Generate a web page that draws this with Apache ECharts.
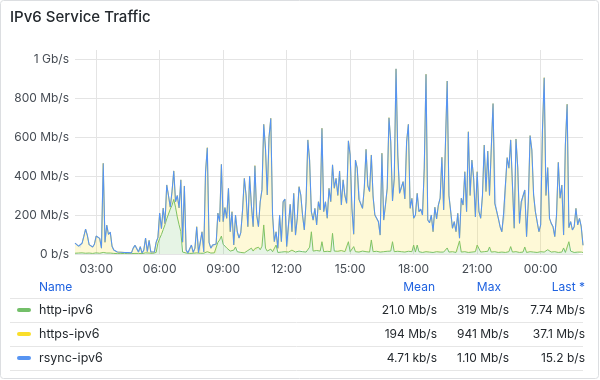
<!DOCTYPE html>
<html><head><meta charset="utf-8">
<script src="https://cdn.jsdelivr.net/npm/echarts@6/dist/echarts.min.js"></script>
<style>html,body{margin:0;padding:0;background:#fff}#c{width:600px;height:380px}</style>
</head><body><div id="c"></div>
<script>
// time grid: 5-minute samples from 02:00 to 02:00 next day
const startMinutes = 120;
const stepMinutes = 5;

// http-ipv6 traffic, Mb/s
const httpMbps = [
4,3,5,4,6,5,4,6,5,4,3,5,6,5,4,4,8,6,5,4,5,4,3,3,2,3,2,2,3,2,2,3,2,4,3,5,3,4,2,3,6,3,5,2,3,4,8,55,80,
100,125,150,180,205,230,250,280,240,190,150,115,10,8,5,4,3,5,4,3,6,3,4,5,4,8,12,6,5,4,6,5,60,72,92,50,46,31,25,15,10,20,36,12,20,8,10,6,
12,18,25,30,15,28,20,35,22,40,149,30,15,20,25,12,10,46,8,12,10,15,12,8,10,14,20,12,10,18,15,22,12,14,10,20,35,114,15,12,18,10,15,63,12,20,14,10,
12,106,15,10,14,12,18,10,12,15,63,12,10,38,12,14,10,12,15,10,12,14,10,72,12,10,14,12,10,15,12,10,14,12,15,63,12,8,14,10,12,15,10,12,14,10,12,46,
10,46,12,10,8,10,12,8,10,12,8,10,12,8,10,12,10,15,31,10,8,12,10,8,12,67,10,8,12,10,8,12,10,8,12,46,40,10,8,12,10,14,36,10,8,12,10,8,
8,10,12,8,10,12,38,10,8,12,10,8,12,10,36,8,10,12,8,10,12,8,10,12,8,10,20,22,18,10,8,12,10,8,12,10,31,8,12,63,15,10,8,12,10,8,10,7.74
];

// https-ipv6 traffic, Mb/s
const httpsMbps = [
52,47,35,26,49,85,124,89,43,38,33,45,86,85,76,26,457,54,143,96,107,36,17,9,8,5,7,5,5,4,5,2,4,26,42,35,7,34,3,17,76,9,65,8,5,6,52,29,130,
30,111,5,174,95,10,70,146,28,110,86,265,50,341,15,2,2,41,4,27,134,3,4,109,6,412,533,54,25,42,32,46,150,94,368,116,192,152,312,99,207,26,164,102,62,102,216,382,
288,122,375,220,125,425,180,105,246,290,516,510,288,580,671,188,53,68,21,188,53,253,270,30,36,241,94,299,87,165,330,281,188,109,258,565,445,103,159,222,131,258,211,582,205,248,169,327,
256,351,322,378,286,414,233,370,288,245,517,496,224,63,470,426,270,274,219,327,525,336,310,436,282,190,169,154,87,502,162,241,323,687,561,209,376,941,494,301,308,356,272,564,651,224,274,137,
190,265,205,220,192,430,910,166,150,188,106,230,168,243,276,484,216,544,856,290,209,120,156,106,197,14,276,243,410,207,619,288,472,380,178,376,177,173,292,547,310,514,264,532,763,248,241,175,
132,104,197,192,484,428,547,344,124,578,433,149,256,267,292,81,258,595,525,293,205,158,104,137,623,894,280,421,165,147,132,77,190,462,274,344,66,551,756,72,151,113,132,222,139,175,130,37.1
];

// rsync-ipv6 traffic, kb/s
const rsyncKbps = [
3,5,2,4,6,3,8,4,2,5,3,7,4,2,6,3,5,9,4,3,2,6,4,3,
1,2,1,0,1,2,1,1,0,2,3,1,2,1,0,2,3,1,2,4,2,3,5,4,
6,8,5,7,9,6,4,8,7,5,6,9,4,3,2,1,1,2,0,1,3,1,2,4,
2,1,5,7,3,2,4,3,2,6,5,8,4,6,3,7,5,4,2,6,5,3,4,7,
8,6,5,9,7,4,6,8,5,7,6,10,9,6,8,11,5,3,4,2,5,3,6,7,
2,3,6,4,7,5,4,8,6,5,4,9,7,5,4,6,5,7,6,4,8,5,6,4,
6,5,8,6,7,5,8,4,6,5,7,9,8,4,3,7,6,5,6,4,5,8,6,5,
7,6,4,5,3,2,8,4,5,6,10,8,5,6,1100,7,5,6,5,4,8,9,4,5,
4,5,6,4,5,7,6,12,5,4,5,3,5,4,6,5,7,4,8,11,6,5,4,3,
3,4,2,5,3,5,4,8,5,6,7,6,4,6,4,3,5,7,4,6,5,9,4,3,
3,2,4,3,6,5,7,4,2,7,5,3,4,4,5,2,4,7,6,4,3,2,2,3,
3,6,8,4,5,3,3,2,2,4,5,4,5,2,6,8,2,3,2,2,3,2,3,2,
0.0152
];

const seriesNames = ['http-ipv6', 'https-ipv6', 'rsync-ipv6'];
const seriesColors = ['#73BF69', '#FADE2A', '#5794F2'];
const legendHeaders = ['Name', 'Mean', 'Max', 'Last *'];
const legendMean = ['21.0 Mb/s', '194 Mb/s', '4.71 kb/s'];
const legendMax = ['319 Mb/s', '941 Mb/s', '1.10 Mb/s'];
const legendLast = ['7.74 Mb/s', '37.1 Mb/s', '15.2 b/s'];
const titleText = 'IPv6 Service Traffic';

const pad = n => (n < 10 ? '0' : '') + n;
const times = httpMbps.map((_, i) => {
  const m = (startMinutes + i * stepMinutes) % 1440;
  return pad(Math.floor(m / 60)) + ':' + pad(m % 60);
});
const isTick = (idx, val) => {
  const v = times[idx];
  return v.slice(3) === '00' && (parseInt(v.slice(0, 2), 10) % 3 === 0);
};

const FONT = 'Inter, "Noto Sans", sans-serif';
const TXT = '#24292e';
const SUB = '#464c54';
const GRIDC = '#e4e4e4';

const graphics = [];
graphics.push({type: 'rect', silent: true, z: 0,
  shape: {x: 0.5, y: 0.5, width: 598, height: 378, r: 3},
  style: {fill: 'none', stroke: '#dcdee1', lineWidth: 1}});
graphics.push({type: 'text', silent: true,
  style: {text: titleText, x: 10, y: 17, font: '500 15px ' + FONT, fill: TXT,
    textAlign: 'left', textVerticalAlign: 'middle', align: 'left', verticalAlign: 'middle'}});

const headerY = 287;
const headerX = [39, 435, 501, 585];
legendHeaders.forEach((h, k) => {
  graphics.push({type: 'text', silent: true,
    style: {text: h, x: headerX[k], y: headerY, font: '12px ' + FONT, fill: '#1f62e0',
      textAlign: k === 0 ? 'left' : 'right', align: k === 0 ? 'left' : 'right',
      textVerticalAlign: 'middle', verticalAlign: 'middle'}});
});
[298.5, 322.5, 346.5, 370.5].forEach(y => {
  graphics.push({type: 'line', silent: true,
    shape: {x1: 10, y1: y, x2: 583, y2: y}, style: {stroke: '#e6e6e6', lineWidth: 1}});
});
const rowY = [310, 334, 358];
const valX = [437, 509, 585];
seriesNames.forEach((n, k) => {
  const y = rowY[k];
  graphics.push({type: 'rect', silent: true,
    shape: {x: 17, y: y - 2, width: 14, height: 4, r: 2}, style: {fill: seriesColors[k]}});
  graphics.push({type: 'text', silent: true,
    style: {text: n, x: 39, y: y, font: '12.5px ' + FONT, fill: TXT,
      textAlign: 'left', align: 'left', textVerticalAlign: 'middle', verticalAlign: 'middle'}});
  [legendMean[k], legendMax[k], legendLast[k]].forEach((v, j) => {
    graphics.push({type: 'text', silent: true,
      style: {text: v, x: valX[j], y: y, font: '12px ' + FONT, fill: TXT,
        textAlign: 'right', align: 'right', textVerticalAlign: 'middle', verticalAlign: 'middle'}});
  });
});

const fmtY = v => {
  if (v === 0) return '0 b/s';
  if (v >= 1000) return (v / 1000) + ' Gb/s';
  return v + ' Mb/s';
};

const fills = ['rgba(115,191,105,0.25)', 'rgba(250,222,42,0.27)', 'rgba(87,148,242,0.25)'];
const lineW = [1, 1, 1.1];
const dataSets = [httpMbps, httpsMbps, rsyncKbps.map(v => v / 1000)];

const chart = echarts.init(document.getElementById('c'), null, {renderer: 'canvas'});
chart.setOption({
  animation: false,
  backgroundColor: '#ffffff',
  textStyle: {fontFamily: FONT},
  grid: {left: 75, right: 17, top: 50, bottom: 126, containLabel: false},
  xAxis: {
    type: 'category', data: times, boundaryGap: false,
    axisLine: {show: false}, axisTick: {show: false},
    axisLabel: {interval: isTick, color: SUB, fontSize: 12, fontFamily: FONT, margin: 9},
    splitLine: {show: true, interval: isTick, lineStyle: {color: GRIDC, width: 1}}
  },
  yAxis: {
    type: 'value', min: 0, max: 1046, interval: 200,
    axisLine: {show: false}, axisTick: {show: false},
    axisLabel: {formatter: fmtY, color: SUB, fontSize: 12, fontFamily: FONT, margin: 6, showMaxLabel: false},
    splitLine: {show: true, showMaxLine: false, lineStyle: {color: GRIDC, width: 1}}
  },
  series: seriesNames.map((n, k) => ({
    name: n, type: 'line', stack: 'total', symbol: 'none', smooth: false,
    data: dataSets[k],
    lineStyle: {color: seriesColors[k], width: lineW[k]},
    itemStyle: {color: seriesColors[k]},
    areaStyle: {color: fills[k]},
    z: 2 + k
  })),
  graphic: {elements: graphics}
});
</script>
</body></html>
